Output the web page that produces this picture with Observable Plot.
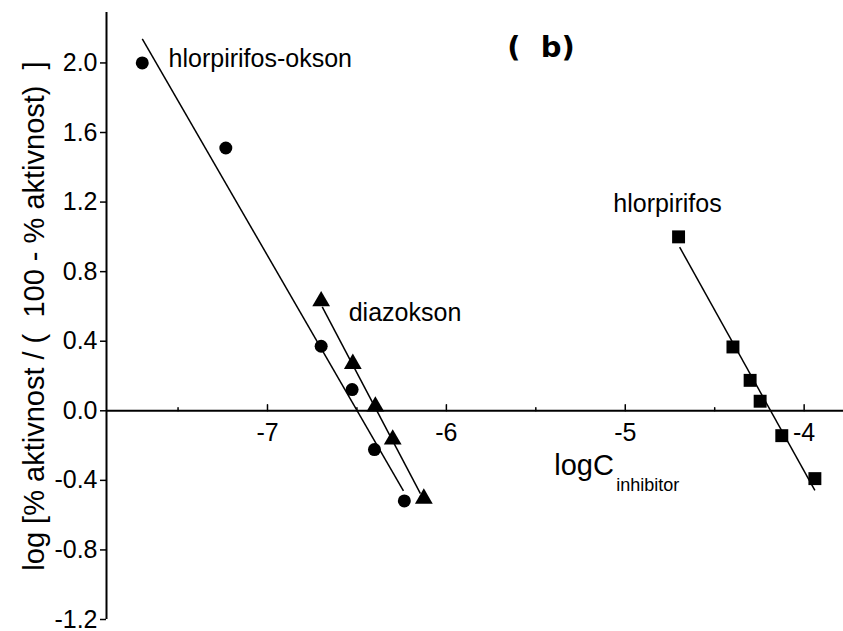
<!DOCTYPE html>
<html>
<head>
<meta charset="utf-8">
<script src="https://cdn.jsdelivr.net/npm/d3@7"></script>
<script src="https://cdn.jsdelivr.net/npm/@observablehq/plot@0.6"></script>
<style>
  html, body { margin: 0; padding: 0; background: #fff; }
  #chart { width: 843px; height: 631px; }
</style>
</head>
<body>
<div id="chart"></div>
<script>
// Inhibition data: log[% activity / (100 - % activity)] vs log of inhibitor concentration
const oksonX = [-7.70, -7.233, -6.70, -6.527, -6.402, -6.235];
const oksonY = [2.0, 1.511, 0.371, 0.122, -0.223, -0.518];

const diazoksonX = [-6.70, -6.523, -6.397, -6.30, -6.126];
const diazoksonY = [0.63, 0.27, 0.025, -0.165, -0.505];

const hlorX = [-4.702, -4.398, -4.302, -4.246, -4.125, -3.94];
const hlorY = [1.0, 0.367, 0.175, 0.055, -0.143, -0.39];

// Fitted regression lines (end points)
const fitLines = [
  {name: "hlorpirifos-okson", x1: -7.70, y1: 2.139, x2: -6.24, y2: -0.461},
  {name: "diazokson", x1: -6.694, y1: 0.597, x2: -6.145, y2: -0.476},
  {name: "hlorpirifos", x1: -4.696, y1: 0.941, x2: -3.94, y2: -0.457}
];

// Axis ticks
const xMajorTicks = [-7, -6, -5, -4];
const xTickLabels = ["-7", "-6", "-5", "-4"];
const xMinorTicks = [-7.5, -6.5, -5.5, -4.5];
const yTicks = [-1.2, -0.8, -0.4, 0.0, 0.4, 0.8, 1.2, 1.6, 2.0];

// Series names written next to the curves
const seriesLabels = [
  {text: "hlorpirifos-okson", x: -7.553, y: 2.02},
  {text: "diazokson", x: -6.546, y: 0.56},
  {text: "hlorpirifos", x: -5.067, y: 1.19}
];

const yTitle = "log [% aktivnost / (  100 - % aktivnost)  ]";
const panelTag = "(  b)";

const toPoints = (xs, ys) => xs.map((x, i) => ({x, y: ys[i]}));
const okson = toPoints(oksonX, oksonY);
const diazokson = toPoints(diazoksonX, diazoksonY);
const hlor = toPoints(hlorX, hlorY);

// short upward tick drawn by the vector mark
const tickUp = {draw(context, l) { context.moveTo(0, 0); context.lineTo(0, -l); }};

const chart = Plot.plot({
  width: 843,
  height: 631,
  marginLeft: 106,
  marginRight: 0,
  marginTop: 12,
  marginBottom: 12,
  style: {fontFamily: "'Liberation Sans', Arial, sans-serif", background: "#fff", color: "#000"},
  x: {domain: [-7.9, -3.78], axis: null},
  y: {domain: [-1.2, 2.29]},
  marks: [
    // left axis
    Plot.ruleX([-7.9], {y1: -1.2, y2: 2.29, stroke: "#000", strokeWidth: 2}),
    Plot.axisY(yTicks, {
      tickSize: 6, tickPadding: 3, strokeWidth: 1.5,
      tickFormat: d => d.toFixed(1), fontSize: 25, label: null
    }),
    // horizontal axis through zero
    Plot.ruleY([0], {stroke: "#000", strokeWidth: 2}),
    Plot.vector(xMajorTicks, {x: d => d, y: 0, length: 6, rotate: 0, anchor: "start", shape: tickUp, stroke: "#000", strokeWidth: 1.5}),
    Plot.vector(xMinorTicks, {x: d => d, y: 0, length: 3, rotate: 0, anchor: "start", shape: tickUp, stroke: "#000", strokeWidth: 1.5}),
    Plot.text(xMajorTicks, {x: d => d, y: 0, text: (d, i) => xTickLabels[i], dy: 22, fontSize: 25, fill: "#000"}),
    // x-axis title with subscript
    Plot.text(["logC"], {x: -5.397, y: -0.313, text: d => d, textAnchor: "start", fontSize: 29, fill: "#000"}),
    Plot.text(["inhibitor"], {x: -5.05, y: -0.43, text: d => d, textAnchor: "start", fontSize: 18, fill: "#000"}),
    // y-axis title
    Plot.text([yTitle], {frameAnchor: "left", textAnchor: "middle", rotate: -90, dx: -72, text: d => d, fontSize: 29, fill: "#000"}),
    // fitted lines
    Plot.link(fitLines, {x1: "x1", y1: "y1", x2: "x2", y2: "y2", stroke: "#000", strokeWidth: 1.5}),
    // data points
    Plot.dot(okson, {x: "x", y: "y", r: 6.5, symbol: "circle", fill: "#000"}),
    Plot.dot(diazokson, {x: "x", y: "y", r: 6.6, symbol: "triangle", fill: "#000"}),
    Plot.dot(hlor, {x: "x", y: "y", r: 7.3, symbol: "square", fill: "#000"}),
    // series labels
    Plot.text(seriesLabels, {x: "x", y: "y", text: "text", textAnchor: "start", fontSize: 25, fill: "#000"}),
    // panel tag
    Plot.text([panelTag], {x: -5.66, y: 2.09, text: d => d, textAnchor: "start", fontSize: 29, fontWeight: "bold", fontFamily: "'DejaVu Sans', sans-serif", fill: "#000"})
  ]
});

document.getElementById("chart").appendChild(chart);
</script>
</body>
</html>
